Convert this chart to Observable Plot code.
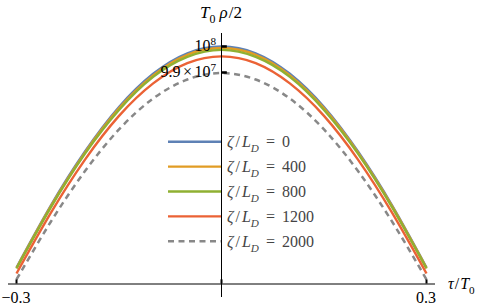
<!DOCTYPE html>
<html>
<head>
<meta charset="utf-8">
<script src="https://cdn.jsdelivr.net/npm/d3@7"></script>
<script src="https://cdn.jsdelivr.net/npm/@observablehq/plot@0.6"></script>
<style>
  html, body { margin: 0; padding: 0; background: white; }
  svg { display: block; }
</style>
</head>
<body>
<div id="chart"></div>
<script>
// τ/T0 sample positions
const tau = [-0.3, -0.25, -0.2, -0.15, -0.1, -0.05, 0, 0.05, 0.1, 0.15, 0.2, 0.25, 0.3];
// T0 ρ/2 values, in units of 10^6
const rhoZeta0    = [91.50, 93.87, 95.95, 97.67, 98.95, 99.74, 100.00, 99.74, 98.95, 97.67, 95.95, 93.87, 91.50];
const rhoZeta400  = [91.48, 93.84, 95.91, 97.62, 98.89, 99.68, 99.94, 99.68, 98.89, 97.62, 95.91, 93.84, 91.48];
const rhoZeta800  = [91.46, 93.80, 95.87, 97.56, 98.83, 99.60, 99.87, 99.60, 98.83, 97.56, 95.87, 93.80, 91.46];
const rhoZeta1200 = [91.27, 93.59, 95.64, 97.33, 98.58, 99.36, 99.62, 99.36, 98.58, 97.33, 95.64, 93.59, 91.27];
const rhoZeta2000 = [91.04, 93.25, 95.20, 96.81, 98.00, 98.73, 98.98, 98.73, 98.00, 96.81, 95.20, 93.25, 91.04];

const legendLabels = ["0", "400", "800", "1200", "2000"];
const colors = ["#5E81B5", "#E19C24", "#8FB032", "#EB6235", "#888888"];
const dashes = [null, null, null, null, "6,4.5"];

const xTicks = [-0.3, 0, 0.3];
const xTickLabels = ["\u22120.3", "", "0.3"];
const yTicks = [100, 99];
const yTickLabels = [
  [{t: "10"}, {t: "8", sup: true}],
  [{t: "9.9"}, {t: "\u00D7", dx: 2.5}, {t: "10", dx: 2.5}, {t: "7", sup: true}]
];
const axisCross = 90.865; // y value where the τ axis is drawn

const seriesValues = [rhoZeta0, rhoZeta400, rhoZeta800, rhoZeta1200, rhoZeta2000];
const serif = "Liberation Serif, Times New Roman, DejaVu Serif, serif";

const lineMarks = seriesValues.map((vals, k) =>
  Plot.line(tau.map((t, i) => ({t, v: vals[i]})), {
    x: "t", y: "v", stroke: colors[k], strokeWidth: k === 4 ? 2.5 : 2.4,
    strokeDasharray: dashes[k], curve: "natural", strokeLinecap: "butt"
  })
);

const plot = Plot.plot({
  width: 480, height: 305,
  marginLeft: 8, marginRight: 45, marginTop: 33, marginBottom: 8,
  style: {background: "white", overflow: "visible"},
  x: {domain: [-0.31171, 0.31317], axis: null},
  y: {domain: [90.3462, 100.5], axis: null},
  marks: [
    ...lineMarks,
    Plot.ruleY([axisCross], {stroke: "black", strokeWidth: 1}),
    Plot.ruleX([0], {stroke: "black", strokeWidth: 1}),
    Plot.ruleX(xTicks, {y1: axisCross, y2: axisCross + 0.16, stroke: "black", strokeWidth: 2}),
    Plot.ruleY(yTicks, {x1: 0, x2: 0.0085, stroke: "black", strokeWidth: 2.5})
  ]
});

document.getElementById("chart").appendChild(plot);

const sx = plot.scale("x"), sy = plot.scale("y");
const svg = d3.select(plot);

function rich(x, y, segs, {anchor = "start", size = 16, fill = "black"} = {}) {
  const t = svg.append("text")
    .attr("x", x).attr("y", y)
    .style("font-family", serif).style("font-size", size + "px")
    .attr("text-anchor", anchor).attr("fill", fill);
  let shift = 0;
  for (const s of segs) {
    const target = s.sub ? size * 0.3 : s.sup ? -size * 0.38 : 0;
    const ts = t.append("tspan").text(s.t)
      .attr("dy", target - shift)
      .style("font-size", ((s.sub || s.sup) ? size * 0.7 : size) + "px");
    if (s.italic) ts.style("font-style", "italic");
    if (s.dx) ts.attr("dx", s.dx);
    shift = target;
  }
  return t;
}

// x tick labels
xTicks.forEach((v, i) => {
  if (!xTickLabels[i]) return;
  rich(sx.apply(v), sy.apply(axisCross) + 19, [{t: xTickLabels[i]}], {anchor: "middle"});
});
// y tick labels
yTicks.forEach((v, i) => {
  rich(sx.apply(0) - 5, sy.apply(v) + 5, yTickLabels[i], {anchor: "end"});
});

// axis titles
rich(sx.apply(0), 17.5, [
  {t: "T", italic: true}, {t: "0", sub: true}, {t: "\u03C1", italic: true, dx: 4}, {t: "/2", dx: 1}
], {anchor: "middle", size: 17});
rich(sx.range[1] + 13, sy.apply(axisCross) + 5.5, [
  {t: "\u03C4", italic: true}, {t: "/", dx: 1}, {t: "T", italic: true, dx: 1}, {t: "0", sub: true}
]);

// legend
const legX0 = 168, legX1 = sx.apply(0), legY0 = 141.7, legStep = 24.9;
legendLabels.forEach((lab, k) => {
  const y = legY0 + k * legStep;
  svg.append("line")
    .attr("x1", legX0).attr("x2", legX1).attr("y1", y).attr("y2", y)
    .attr("stroke", colors[k]).attr("stroke-width", k === 4 ? 2.5 : 2.4)
    .attr("stroke-dasharray", dashes[k]);
  rich(legX1 + 6, y + 5.5, [
    {t: "\u03B6", italic: true}, {t: "/", dx: 2}, {t: "L", italic: true, dx: 2},
    {t: "D", italic: true, sub: true}, {t: " = ", dx: 3}, {t: lab, dx: 3}
  ], {fill: "#444444"});
});
</script>
</body>
</html>
